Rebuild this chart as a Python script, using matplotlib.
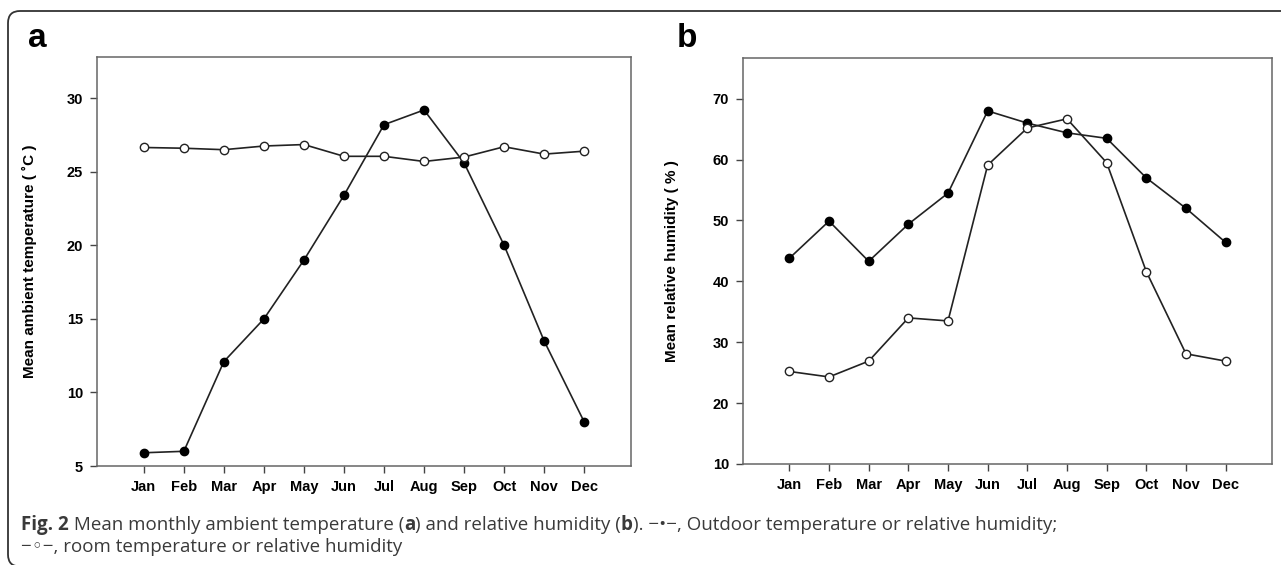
import matplotlib
matplotlib.use('Agg')
import matplotlib.pyplot as plt
from matplotlib.patches import FancyBboxPatch

months = ['Jan', 'Feb', 'Mar', 'Apr', 'May', 'Jun', 'Jul', 'Aug', 'Sep', 'Oct', 'Nov', 'Dec']
temp_outdoor = [5.9, 6.0, 12.1, 15.0, 19.0, 23.4, 28.2, 29.2, 25.6, 20.0, 13.5, 8.0]
temp_room = [26.65, 26.6, 26.5, 26.75, 26.85, 26.05, 26.05, 25.7, 26.0, 26.7, 26.2, 26.4]
hum_outdoor = [43.8, 49.9, 43.3, 49.4, 54.5, 68.0, 66.0, 64.4, 63.5, 57.0, 52.0, 46.4]
hum_room = [25.2, 24.3, 26.9, 34.0, 33.5, 59.1, 65.2, 66.7, 59.5, 41.6, 28.1, 26.9]
temp_ticks = [5, 10, 15, 20, 25, 30]
hum_ticks = [10, 20, 30, 40, 50, 60, 70]

tick_font = ['Liberation Sans Narrow', 'Liberation Sans', 'DejaVu Sans']
cap_font = ['Open Sans', 'DejaVu Sans']
cap_color = '#3a3a3a'

fig = plt.figure(figsize=(12.81, 5.65), dpi=100)


def draw_panel(ax, outdoor, room, ticks, ylim, ylabel, label_x):
  x = range(1, len(months) + 1)
  ax.plot(x, outdoor, '-', color='#222222', lw=1.2, marker='o', ms=6,
          mfc='black', mec='black', zorder=3)
  ax.plot(x, room, '-', color='#222222', lw=1.2, marker='o', ms=6,
          mfc='white', mec='#222222', mew=1.0, zorder=3)
  ax.set_xlim(-0.17, 13.17)
  ax.set_ylim(*ylim)
  ax.set_xticks(list(x))
  ax.set_xticklabels(months)
  ax.set_yticks(ticks)
  for sp in ax.spines.values():
    sp.set_color('#666666')
    sp.set_linewidth(1.1)
  ax.tick_params(direction='out', length=5, width=1.0, color='#444444', pad=5)
  for lab in ax.get_xticklabels() + ax.get_yticklabels():
    lab.set_family(tick_font)
    lab.set_fontweight('bold')
    lab.set_fontsize(10.5)
  ax.set_ylabel(ylabel, family=tick_font, fontweight='bold', fontsize=11)
  ax.yaxis.set_label_coords(label_x, 0.5)


ax1 = fig.add_axes([0.0757, 0.1752, 0.4169, 0.7239])
draw_panel(ax1, temp_outdoor, temp_room, temp_ticks, (5, 32.8),
           'Mean ambient temperature ( \u02daC )', -0.112)
ax2 = fig.add_axes([0.5800, 0.1788, 0.4130, 0.7186])
draw_panel(ax2, hum_outdoor, hum_room, hum_ticks, (10, 76.7),
           'Mean relative humidity ( % )', -0.121)

fig.text(28 / 1281, 1 - 47 / 565, 'a', fontsize=24, fontweight='bold',
         family=['Liberation Sans', 'DejaVu Sans'], va='baseline')
fig.text(677 / 1281, 1 - 47 / 565, 'b', fontsize=24, fontweight='bold',
         family=['Liberation Sans', 'DejaVu Sans'], va='baseline')

# outer rounded frame
frame = FancyBboxPatch((0.08, -0.015), 13.2, 5.555, boxstyle='round,pad=0,rounding_size=0.12',
                       transform=fig.dpi_scale_trans, fill=False, ec='#333333', lw=1.3)
fig.patches.append(frame)

# caption, with bold pieces
renderer = fig.canvas.get_renderer()


def put_parts(x_px, y_px, parts):
  x = x_px
  for s, w in parts:
    t = fig.text(x / 1281, 1 - y_px / 565, s, fontweight=w, family=cap_font,
                 fontsize=13.5, color=cap_color, va='baseline')
    bb = t.get_window_extent(renderer)
    x = bb.x1


put_parts(21, 530, [('Fig. 2', 'bold'), (' Mean monthly ambient temperature (', 'normal'),
                    ('a', 'bold'), (') and relative humidity (', 'normal'), ('b', 'bold'),
                    ('). \u2212\u2022\u2212, Outdoor temperature or relative humidity;', 'normal')])
put_parts(21, 552, [('\u2212\u25e6\u2212, room temperature or relative humidity', 'normal')])

fig.savefig('out.png', dpi=100)
